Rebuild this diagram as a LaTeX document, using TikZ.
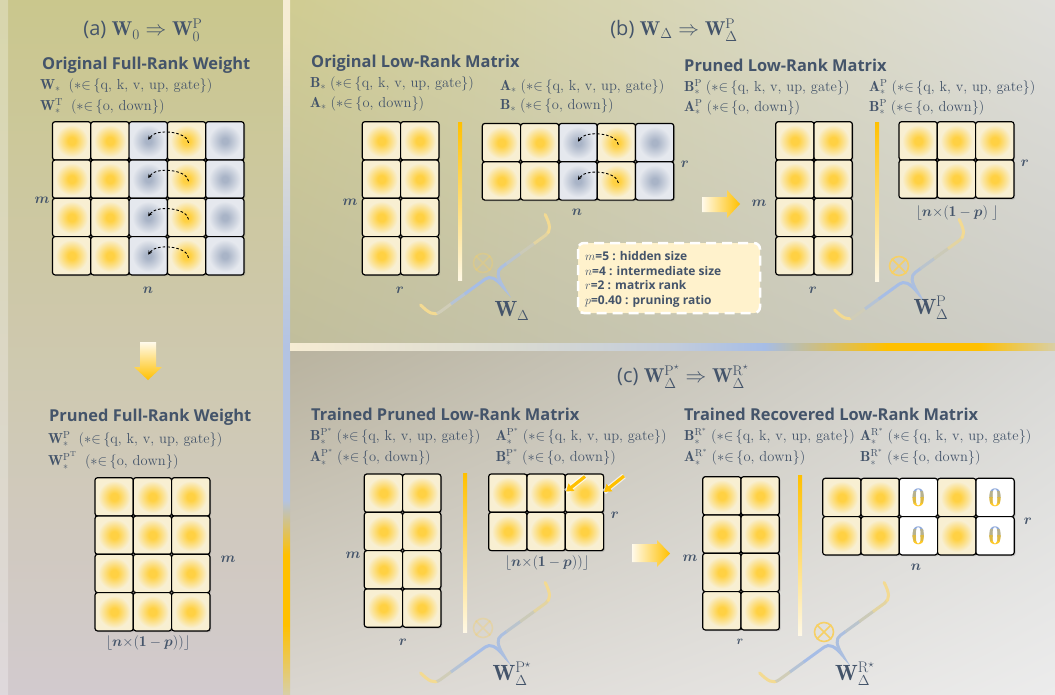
\documentclass[tikz,border=0pt]{standalone}
\usepackage{amsmath}
\usepackage{fontspec}
\setsansfont{Open Sans}
\usetikzlibrary{arrows.meta,shadings,shadows}

\definecolor{txtblue}{HTML}{44546A}
\definecolor{gold}{HTML}{FFC000}
\definecolor{cream}{HTML}{FFF2CC}
\definecolor{cellgold}{HTML}{FFD143}
\definecolor{cellcream}{HTML}{F8EFD2}
\definecolor{cellgray}{HTML}{A9B4C7}
\definecolor{cellpale}{HTML}{E5E8EE}
\definecolor{braceblue}{HTML}{A6BDE6}
\definecolor{braceyellow}{HTML}{F3DA92}
\definecolor{bracegray}{HTML}{CBCAB8}
\definecolor{prodgold}{HTML}{F6D066}
\definecolor{zeroblue}{HTML}{8EA9DB}
\definecolor{sepcream}{HTML}{F6ECD3}
\definecolor{sepblue}{HTML}{B3C3E2}
\definecolor{septan}{HTML}{D8CFA6}
\definecolor{hsepgray}{HTML}{D9DAD2}
\definecolor{bga1}{HTML}{CAC78D}
\definecolor{bga2}{HTML}{B3AD8E}
\definecolor{bga3}{HTML}{D2CACE}
\definecolor{bgb1}{HTML}{D0CC92}
\definecolor{bgb2}{HTML}{C1BE9C}
\definecolor{bgb3}{HTML}{DFDFDB}
\definecolor{bgb4}{HTML}{CECEC9}
\definecolor{bgc1}{HTML}{B9B39F}
\definecolor{bgc2}{HTML}{DAD6D0}
\definecolor{bgc3}{HTML}{D8D8D5}
\definecolor{bgc4}{HTML}{ECECEC}

\pgfdeclareradialshading{ycellshade}{\pgfpoint{0bp}{0bp}}{color(0bp)=(cellgold); color(5bp)=(cellgold); color(21bp)=(cellcream); color(50bp)=(cellcream)}
\pgfdeclareradialshading{gcellshade}{\pgfpoint{0bp}{0bp}}{color(0bp)=(cellgray); color(4bp)=(cellgray); color(21bp)=(cellpale); color(50bp)=(cellpale)}
\pgfdeclareverticalshading{vsepshade}{100bp}{color(0bp)=(septan); color(25bp)=(septan); color(30bp)=(gold); color(35bp)=(gold); color(39bp)=(sepblue); color(50bp)=(sepblue); color(62bp)=(sepblue!50!sepcream); color(72bp)=(sepcream); color(100bp)=(sepcream)}
\pgfdeclarehorizontalshading{hsepshade}{100bp}{color(0bp)=(sepcream); color(25bp)=(sepcream); color(40bp)=(hsepgray); color(50bp)=(sepblue!60!hsepgray); color(56bp)=(braceblue); color(60bp)=(gold!50!braceblue); color(64bp)=(gold); color(70bp)=(gold); color(75bp)=(septan); color(100bp)=(septan)}

\begin{document}
\begin{tikzpicture}[x=1pt, y=-1pt,
    cell/.style={draw=black, line width=1.2pt, rounded corners=2.5pt,
      drop shadow={shadow xshift=1.3pt, shadow yshift=-1.3pt, opacity=0.35}},
    ycell/.style={cell, shade, shading=ycellshade},
    gcell/.style={cell, shade, shading=gcellshade},
    zcell/.style={cell, fill=white},
    paneltitle/.style={font=\sffamily\fontsize{20}{24}\selectfont, text=txtblue, inner sep=0pt},
    heading/.style={font=\sffamily\bfseries\fontsize{16.4}{19}\selectfont, text=txtblue, anchor=west, inner sep=0pt},
    subline/.style={font=\fontsize{14.5}{17}\selectfont, text=txtblue, anchor=west, inner sep=0pt},
    dimlabel/.style={font=\fontsize{15}{18}\selectfont, text=txtblue, inner sep=0pt},
    wlabel/.style={font=\fontsize{22}{26}\selectfont, text=txtblue, inner sep=0pt},
    prod/.style={circle, draw=prodgold, line width=1.6pt, minimum size=19pt, inner sep=0pt},
    rankbar/.style={top color=gold, bottom color=cream!50!white},
    swaparc/.style={black, line width=0.9pt, dash pattern=on 2.6pt off 2pt, -{Stealth[length=4pt, width=4pt]}},
    nudge/.style={gold, line width=3.2pt, -{Triangle[length=7pt, width=9pt]}},
    nudgeglow/.style={white, opacity=0.7, line width=5.5pt},
    zerodigit/.style={font=\fontsize{27}{30}\selectfont, inner sep=0pt},
    bracepath/.style={line width=3pt, line cap=round},
    legendbox/.style={fill=cream, draw=white, line width=2.5pt, dash pattern=on 10pt off 6pt, rounded corners=6pt},
    legendtext/.style={font=\sffamily\bfseries\fontsize{12}{14.7}\selectfont, text=txtblue, align=left, inner sep=0pt}
  ]
    \def\cell{38.3}
    \def\qkv{({*}{\in}\,\{\mathrm{q,\,k,\,v,\,up,\,gate}\})}
    \def\odown{({*}{\in}\,\{\mathrm{o,\,down}\})}

    \useasboundingbox (0,0) rectangle (1055,694);

    % Backgrounds
    \shade[top color=bga1, middle color=bga2, bottom color=bga3] (0,0) rectangle (283,694);
    \shade[top color=bga1!60!white, bottom color=bga3!60!white, opacity=0.7] (0,0) rectangle (8,694);
    \shade[upper left=bgb1, lower left=bgb2, upper right=bgb3, lower right=bgb4] (290,0) rectangle (1055,343.5);
    \shade[upper left=bgc1, lower left=bgc2, upper right=bgc3, lower right=bgc4] (290,350) rectangle (1055,694);
    \shade[shading=vsepshade] (283,0) rectangle (290,694);
    \shade[shading=hsepshade] (290,343.5) rectangle (1055,350);

    % Titles
    \node[paneltitle] (titleA) at (143,30) {(a) $\mathbf{W}_0 \Rightarrow \mathbf{W}_0^{\mathrm{P}}$};
    \node[paneltitle] (titleB) at (674,30) {(b) $\mathbf{W}_{\Delta} \Rightarrow \mathbf{W}_{\Delta}^{\mathrm{P}}$};
    \node[paneltitle] (titleC) at (683,377) {(c) $\mathbf{W}_{\Delta}^{\mathrm{P}^{\star}} \Rightarrow \mathbf{W}_{\Delta}^{\mathrm{R}^{\star}}$};

    % Headings
    \node[heading] (headA) at (42,65) {Original Full-Rank Weight};
    \node[heading] (headAP) at (49,417) {Pruned Full-Rank Weight};
    \node[heading] (headB) at (311,63) {Original Low-Rank Matrix};
    \node[heading] (headBP) at (684,65) {Pruned Low-Rank Matrix};
    \node[heading] (headC) at (311,414) {Trained Pruned Low-Rank Matrix};
    \node[heading] (headCR) at (684,414) {Trained Recovered Low-Rank Matrix};

    % Sub lines
    \node[subline] (lineA1) at (40,86) {$\mathbf{W}_{*}\;\;\qkv$};
    \node[subline] (lineA2) at (40,106) {$\mathbf{W}_{*}^{\mathrm{T}}\;\;\odown$};
    \node[subline] (lineAP1) at (48,439) {$\mathbf{W}_{*}^{\mathrm{P}}\;\;\qkv$};
    \node[subline] (lineAP2) at (48,462) {$\mathbf{W}_{*}^{\smash{\mathrm{P}^{\mathrm{T}}}}\;\;\odown$};
    \node[subline] (lineB1) at (310,84) {$\mathbf{B}_{*}\;\qkv$};
    \node[subline] (lineB2) at (310,104) {$\mathbf{A}_{*}\;\odown$};
    \node[subline] (lineB3) at (500,87) {$\mathbf{A}_{*}\;\qkv$};
    \node[subline] (lineB4) at (500,106) {$\mathbf{B}_{*}\;\odown$};
    \node[subline] (lineBP1) at (684,87) {$\mathbf{B}_{*}^{\mathrm{P}}\;\qkv$};
    \node[subline] (lineBP2) at (684,107) {$\mathbf{A}_{*}^{\mathrm{P}}\;\odown$};
    \node[subline] (lineBP3) at (869,87) {$\mathbf{A}_{*}^{\mathrm{P}}\;\qkv$};
    \node[subline] (lineBP4) at (869,107) {$\mathbf{B}_{*}^{\mathrm{P}}\;\odown$};
    \node[subline] (lineC1) at (310,437) {$\mathbf{B}_{*}^{\smash{\mathrm{P}^{*}}}\;\qkv$};
    \node[subline] (lineC2) at (310,458) {$\mathbf{A}_{*}^{\smash{\mathrm{P}^{*}}}\;\odown$};
    \node[subline] (lineC3) at (495.7,437) {$\mathbf{A}_{*}^{\smash{\mathrm{P}^{*}}}\;\qkv$};
    \node[subline] (lineC4) at (495.7,458) {$\mathbf{B}_{*}^{\smash{\mathrm{P}^{*}}}\;\odown$};
    \node[subline] (lineCR1) at (684,437) {$\mathbf{B}_{*}^{\smash{\mathrm{R}^{*}}}\;\qkv$};
    \node[subline] (lineCR2) at (684,458) {$\mathbf{A}_{*}^{\smash{\mathrm{R}^{*}}}\;\odown$};
    \node[subline] (lineCR3) at (860,437) {$\mathbf{A}_{*}^{\smash{\mathrm{R}^{*}}}\;\qkv$};
    \node[subline] (lineCR4) at (860,458) {$\mathbf{B}_{*}^{\smash{\mathrm{R}^{*}}}\;\odown$};

    % Plain grids
    \foreach \gx/\gy/\lastCol/\lastRow in {95/477.7/2/3, 362.3/121.7/1/3, 775.7/121.7/1/3, 899/121.7/2/1, 364.3/474/1/3, 488.7/474/2/1, 702.7/476.7/1/3} {
        \foreach \x in {0,...,\lastCol} {
            \foreach \y in {0,...,\lastRow} {
                \path[ycell] ({\gx + \x * \cell}, {\gy + \y * \cell}) rectangle ++(\cell,\cell);
            }
        }
    }

    % Grids with pruned columns
    \foreach \gx/\gy/\lastRow in {52.5/121.7/3, 482.3/123.5/1} {
        \foreach \x/\kind in {0/ycell, 1/ycell, 2/gcell, 3/ycell, 4/gcell} {
            \foreach \y in {0,...,\lastRow} {
                \path[\kind] ({\gx + \x * \cell}, {\gy + \y * \cell}) rectangle ++(\cell,\cell);
            }
        }
        \foreach \y in {0,...,\lastRow} {
            \draw[swaparc]
                ({\gx + 3.5 * \cell + 2}, {\gy + (\y + 0.5) * \cell + 2})
                .. controls +(-1,-11.5) and +(7.5,-12) ..
                ({\gx + 2.5 * \cell}, {\gy + (\y + 0.5) * \cell - 1});
        }
    }

    % Recovered grid
    \foreach \x/\kind in {0/ycell, 1/ycell, 2/zcell, 3/ycell, 4/zcell} {
        \foreach \y in {0,1} {
            \path[\kind] ({822.7 + \x * \cell}, {478.3 + \y * \cell}) rectangle ++(\cell,\cell);
        }
    }
    \foreach \zc in {2,4} {
        \foreach \zr in {0,1} {
            \pgfmathsetmacro{\zx}{822.7 + (\zc + 0.5) * \cell}
            \pgfmathsetmacro{\zy}{478.3 + (\zr + 0.5) * \cell}
            \foreach \zcol [count=\k from 0] in {zeroblue, zeroblue!65!gold, zeroblue!30!gold, gold!85!white} {
                \begin{scope}
                    \clip ({\zx - 12}, {\zy - 12 + \k * 6}) rectangle ++(24, 6.3);
                    \node[zerodigit, text=\zcol] (zero\zc\zr\k) at (\zx, \zy) {$\mathbf{0}$};
                \end{scope}
            }
        }
    }

    % Dimension labels
    \node[dimlabel] (mA) at (42,200) {$\boldsymbol{m}$};
    \node[dimlabel] (nA) at (148,290) {$\boldsymbol{n}$};
    \node[dimlabel] (mAP) at (228,559) {$\boldsymbol{m}$};
    \node[dimlabel] (kAP) at (148,643) {$\lfloor\boldsymbol{n}{\times}(\mathbf{1}-\boldsymbol{p}))\rfloor$};
    \node[dimlabel] (mB) at (350,202) {$\boldsymbol{m}$};
    \node[dimlabel] (rB) at (400,290) {$\boldsymbol{r}$};
    \node[dimlabel] (nB) at (577,212) {$\boldsymbol{n}$};
    \node[dimlabel] (rB2) at (685,164) {$\boldsymbol{r}$};
    \node[dimlabel] (mBP) at (759,203) {$\boldsymbol{m}$};
    \node[dimlabel] (rBP) at (813,290) {$\boldsymbol{r}$};
    \node[dimlabel] (rBP2) at (1025,163) {$\boldsymbol{r}$};
    \node[dimlabel] (kBP) at (957,213) {$\lfloor\boldsymbol{n}{\times}(\mathbf{1}-\boldsymbol{p})\;\rfloor$};
    \node[dimlabel] (mC) at (353,555) {$\boldsymbol{m}$};
    \node[dimlabel] (rC) at (403,642) {$\boldsymbol{r}$};
    \node[dimlabel] (rC2) at (615,515) {$\boldsymbol{r}$};
    \node[dimlabel] (kC) at (547,563) {$\lfloor\boldsymbol{n}{\times}(\mathbf{1}-\boldsymbol{p}))\rfloor$};
    \node[dimlabel] (mCR) at (690,558) {$\boldsymbol{m}$};
    \node[dimlabel, font=\fontsize{12}{14}\selectfont] (rCR) at (740,642) {$\boldsymbol{r}$};
    \node[dimlabel] (rCR2) at (1028,521) {$\boldsymbol{r}$};
    \node[dimlabel] (nCR) at (916,567) {$\boldsymbol{n}$};

    % Rank bars
    \shade[rankbar] (458,122) rectangle (462,280);
    \shade[rankbar] (875,122) rectangle (879,281);
    \shade[rankbar] (463,473) rectangle (467,632);
    \shade[rankbar] (798,475) rectangle (802,635);

    % Step arrows
    \shade[top color=cream!40!white, bottom color=gold]
        (140,342) -- (156,342) -- (156,367) -- (162,367) -- (148,380) -- (134,367) -- (140,367) -- cycle;
    \shade[left color=cream!40!white, right color=gold]
        (702,197) -- (727,197) -- (727,190) -- (740,204) -- (727,218) -- (727,212) -- (702,212) -- cycle;
    \shade[left color=cream!40!white, right color=gold]
        (632,544) -- (657,544) -- (657,540) -- (670,553.5) -- (657,567) -- (657,562) -- (632,562) -- cycle;

    % Trained entries
    \coordinate (nudge1s) at (585,476.5);
    \coordinate (nudge1t) at (566,491.5);
    \coordinate (nudge2s) at (624,476);
    \coordinate (nudge2t) at (604,492);
    \draw[nudgeglow] (nudge1s) -- (nudge1t);
    \draw[nudgeglow] (nudge2s) -- (nudge2t);
    \draw[nudge] (nudge1s) -- (nudge1t);
    \draw[nudge] (nudge2s) -- (nudge2t);

    % Legend
    \draw[legendbox] (578,243) rectangle (760,313);
    \node[legendtext, anchor=north west] (legend) at (585,251) {$m$=5 : hidden size\\ $n$=4 : intermediate size\\ $r$=2 : matrix rank\\ $p$=0.40 : pruning ratio};

    % Braces
    \def\blen{147}
    \foreach \bx/\by in {433/317, 847/322, 433/685, 772/685} {
        \begin{scope}[shift={(\bx,\by)}, rotate=36]
            \foreach \bcol [count=\i from 0] in {braceyellow, braceyellow!55!braceblue, braceblue!80!braceyellow, braceblue, braceblue, braceblue!85!bracegray, braceblue!45!bracegray, bracegray, bracegray!40!braceyellow, braceyellow} {
                \begin{scope}
                    \clip ({-12 + \i * 17.1}, -30) rectangle ++(17.6, 60);
                    \draw[bracepath, draw=\bcol]
                        (-3,-17) .. controls (-1,-6) and (1,0) .. (9,0)
                        -- ({\blen/2 - 9}, 0) .. controls ({\blen/2 - 3}, 0) and ({\blen/2}, 5) .. ({\blen/2 + 1}, 17)
                        .. controls ({\blen/2 + 2}, 5) and ({\blen/2 + 5}, 0) .. ({\blen/2 + 11}, 0)
                        -- ({\blen - 8}, 0) .. controls ({\blen - 1}, 0) and ({\blen + 2}, -5) .. ({\blen + 4}, -17);
                \end{scope}
            }
        \end{scope}
    }

    % Products
    \foreach \pname/\px/\py/\pop in {prodB/483/263/0.35, prodBP/899/266/1, prodC/483/628/0.35, prodCR/824/632/1} {
        \node[prod, opacity=\pop] (\pname) at (\px,\py) {};
        \draw[prodgold, line width=1.6pt, opacity=\pop]
            (\pname.45) -- (\pname.225) (\pname.135) -- (\pname.315);
    }

    % Brace labels
    \node[wlabel] (wB) at (512,311) {$\mathbf{W}_{\Delta}$};
    \node[wlabel] (wBP) at (931,308) {$\mathbf{W}_{\Delta}^{\mathrm{P}}$};
    \node[wlabel] (wC) at (512,674) {$\mathbf{W}_{\Delta}^{\mathrm{P}^{\star}}$};
    \node[wlabel] (wCR) at (855,674) {$\mathbf{W}_{\Delta}^{\mathrm{R}^{\star}}$};

\end{tikzpicture}
\end{document}
